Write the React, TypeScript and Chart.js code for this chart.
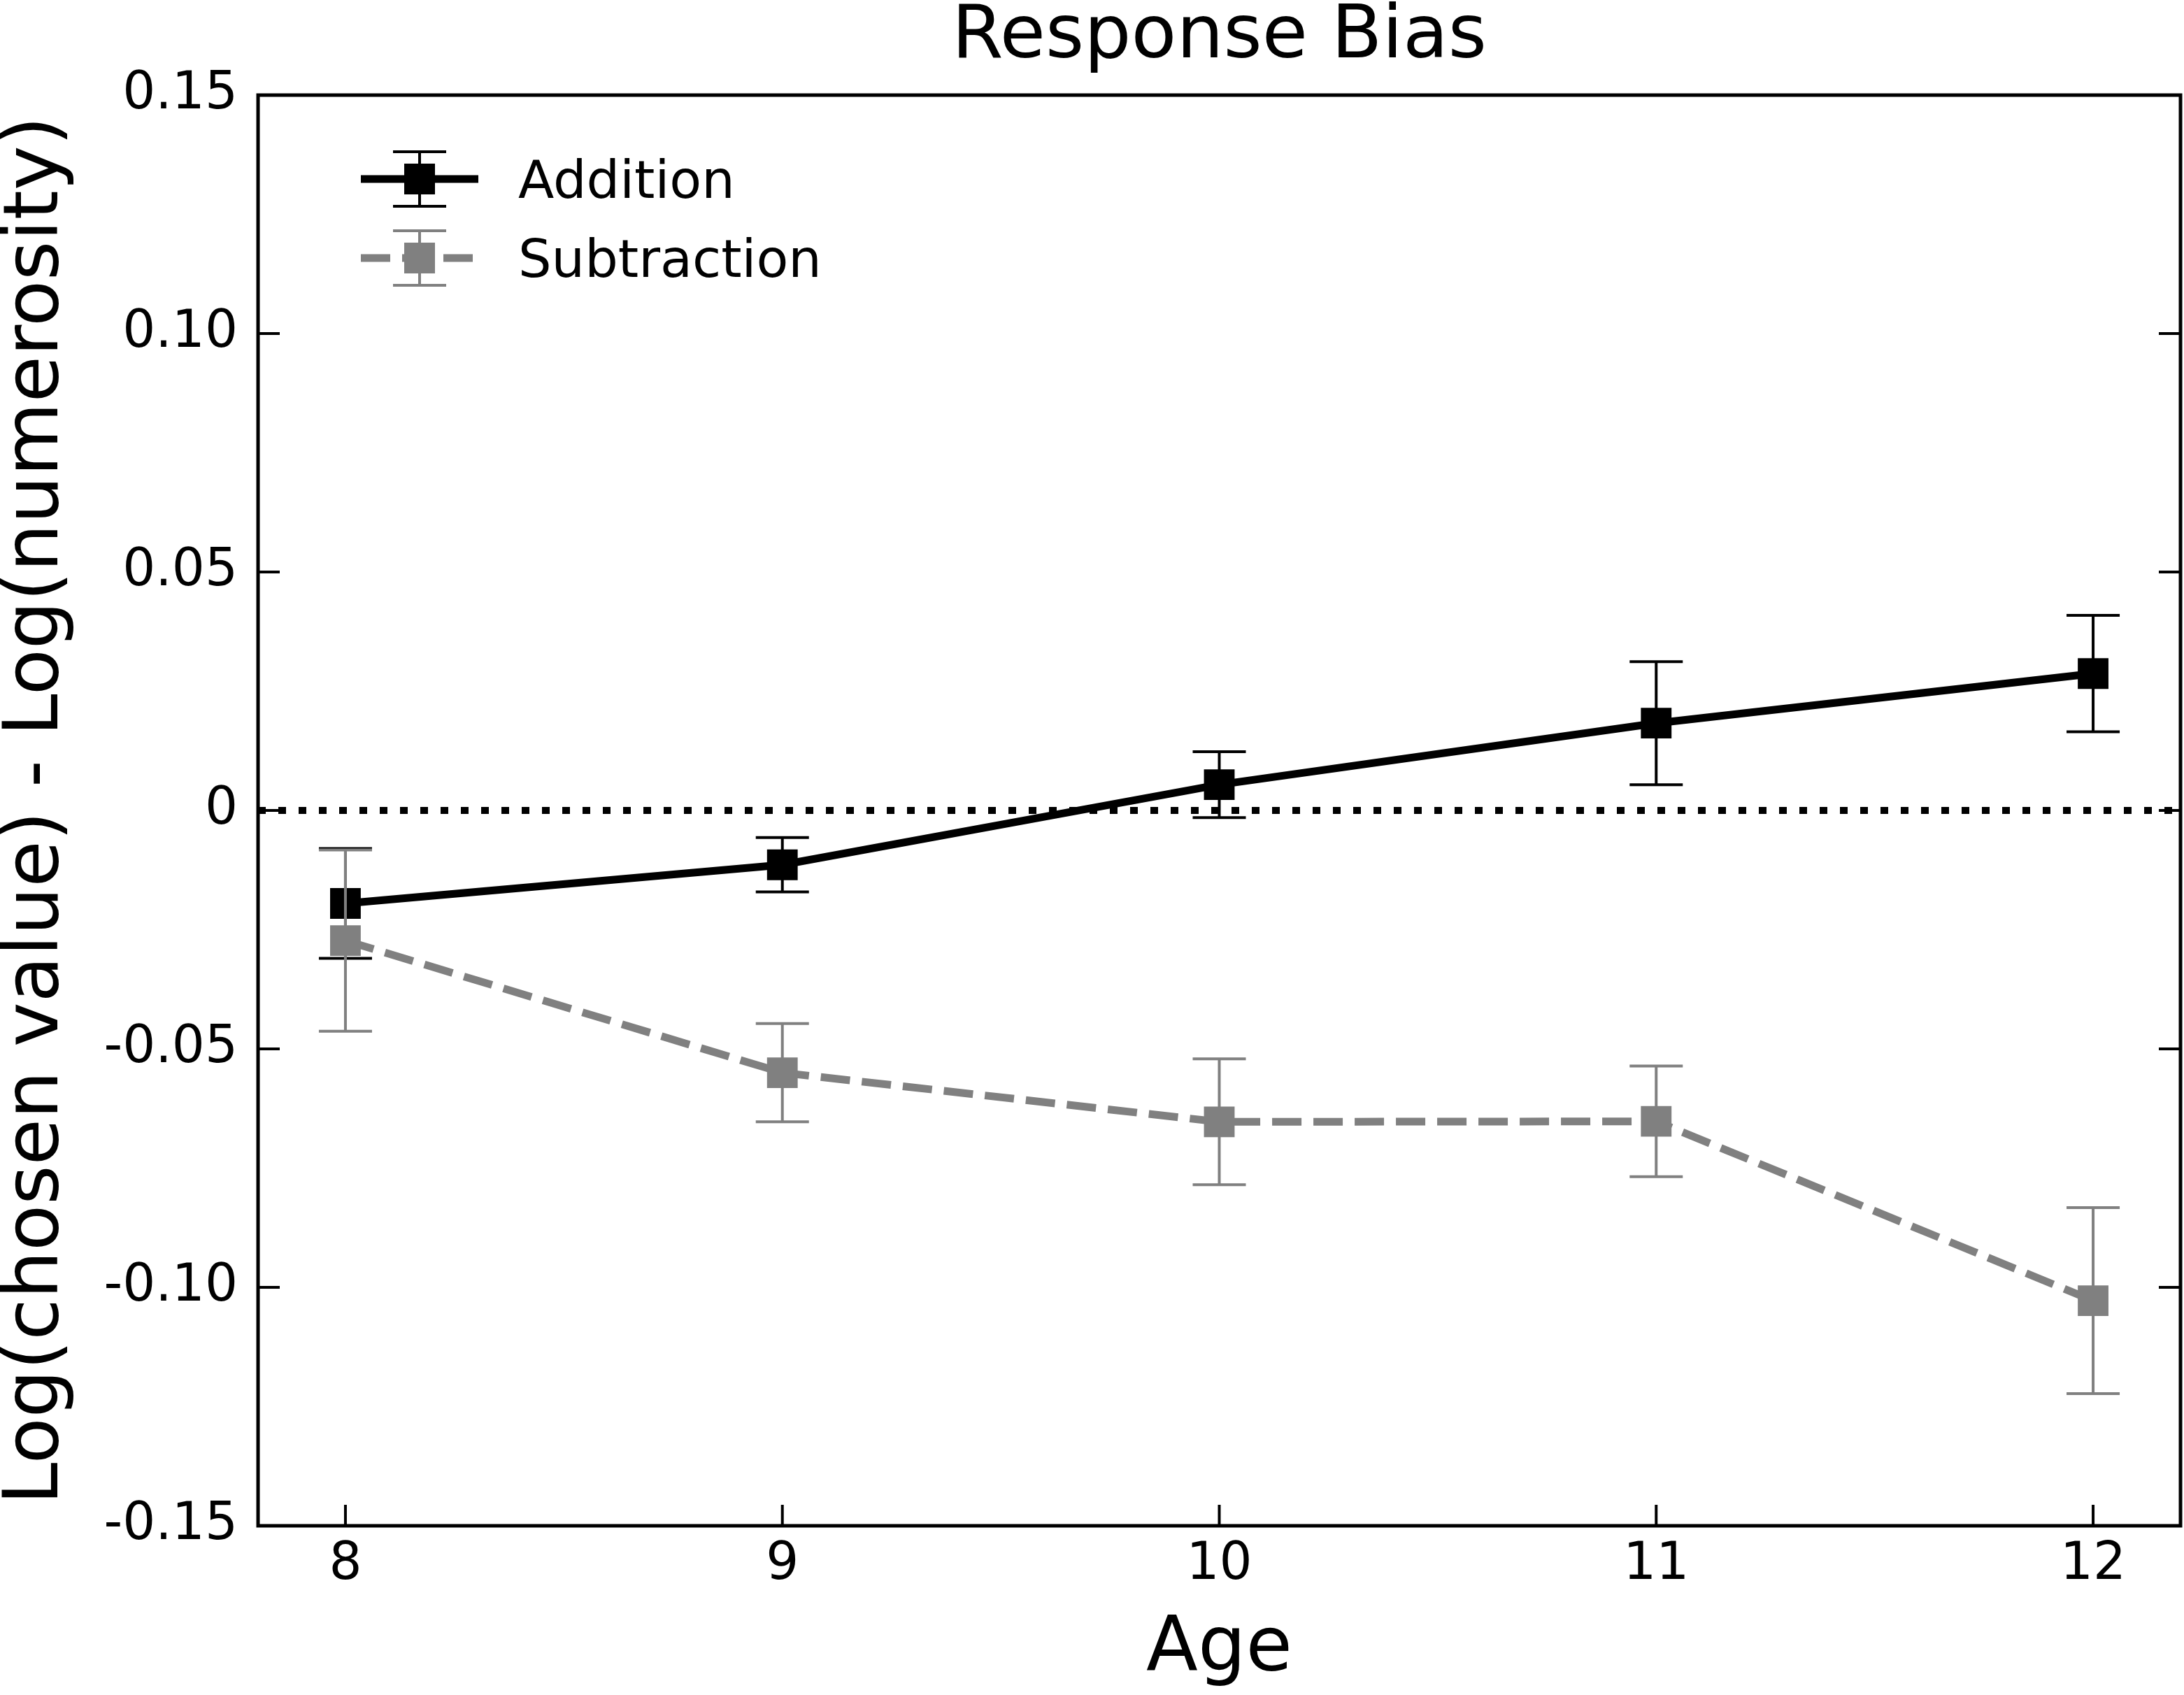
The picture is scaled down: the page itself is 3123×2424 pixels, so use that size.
import { useEffect, useRef } from "react";
import { Chart, registerables } from "chart.js";

Chart.register(...registerables);

// values
const ages = [8, 9, 10, 11, 12];
const additionMean = [-0.0195, -0.0114, 0.0054, 0.0183, 0.0287];
const additionErr = [0.0115, 0.0057, 0.0069, 0.0129, 0.0122];
const subtractionMean = [-0.0273, -0.055, -0.0653, -0.0652, -0.1028];
const subtractionErr = [0.019, 0.0103, 0.0132, 0.0116, 0.0195];
const yTicks = [-0.15, -0.1, -0.05, 0, 0.05, 0.1, 0.15];
const yTickLabels = ["-0.15", "-0.10", "-0.05", "0", "0.05", "0.10", "0.15"];
const xTickLabels = ["8", "9", "10", "11", "12"];

const W = 3123;
const H = 2424;
const BLACK = "#000000";
const GRAY = "#808080";
const FONT = '"DejaVu Sans", sans-serif';
const LINE_W = 11;

const series = [
  { label: "Addition", mean: additionMean, err: additionErr, color: BLACK, dash: [] as number[] },
  { label: "Subtraction", mean: subtractionMean, err: subtractionErr, color: GRAY, dash: [42, 17] },
];

const CAP = 38;

const errorBars = {
  id: "errorBars",
  beforeDatasetDraw(chart: any, args: any) {
    const s = series[args.index];
    if (!s) return;
    const { ctx } = chart;
    const x = chart.scales.x;
    const y = chart.scales.y;
    ctx.save();
    ctx.strokeStyle = s.color;
    ctx.lineWidth = 4;
    ctx.setLineDash([]);
    ages.forEach((age, i) => {
      const px = x.getPixelForValue(age);
      const top = y.getPixelForValue(s.mean[i] + s.err[i]);
      const bot = y.getPixelForValue(s.mean[i] - s.err[i]);
      ctx.beginPath();
      ctx.moveTo(px, top);
      ctx.lineTo(px, bot);
      ctx.moveTo(px - CAP, top);
      ctx.lineTo(px + CAP, top);
      ctx.moveTo(px - CAP, bot);
      ctx.lineTo(px + CAP, bot);
      ctx.stroke();
    });
    ctx.restore();
  },
};

const zeroLine = {
  id: "zeroLine",
  beforeDatasetsDraw(chart: any) {
    const { ctx, chartArea } = chart;
    const py = chart.scales.y.getPixelForValue(0);
    ctx.save();
    ctx.strokeStyle = BLACK;
    ctx.lineWidth = 10;
    ctx.setLineDash([11, 18]);
    ctx.beginPath();
    ctx.moveTo(chartArea.left, py);
    ctx.lineTo(chartArea.right, py);
    ctx.stroke();
    ctx.restore();
  },
};

const frameAndLegend = {
  id: "frameAndLegend",
  afterDraw(chart: any) {
    const { ctx, chartArea } = chart;
    const { left, right, top, bottom } = chartArea;
    const x = chart.scales.x;
    const y = chart.scales.y;
    ctx.save();

    // inward ticks: left, right, bottom
    ctx.strokeStyle = BLACK;
    ctx.lineWidth = 4;
    ctx.beginPath();
    yTicks.forEach((v) => {
      const py = y.getPixelForValue(v);
      ctx.moveTo(left, py);
      ctx.lineTo(left + 31, py);
      ctx.moveTo(right, py);
      ctx.lineTo(right - 31, py);
    });
    ages.forEach((v) => {
      const px = x.getPixelForValue(v);
      ctx.moveTo(px, bottom);
      ctx.lineTo(px, bottom - 30);
    });
    ctx.stroke();

    // frame
    ctx.lineWidth = 5;
    ctx.strokeRect(left, top, right - left, bottom - top);

    // legend
    const lx = left + 147;
    const row0 = top + 120;
    series.forEach((s, i) => {
      const cy = row0 + i * 113;
      const cx = lx + 84;
      ctx.strokeStyle = s.color;
      ctx.lineWidth = LINE_W;
      ctx.setLineDash(s.dash);
      ctx.beginPath();
      ctx.moveTo(lx, cy);
      ctx.lineTo(lx + 168, cy);
      ctx.stroke();
      ctx.setLineDash([]);
      ctx.lineWidth = 4;
      ctx.beginPath();
      ctx.moveTo(cx, cy - 39);
      ctx.lineTo(cx, cy + 39);
      ctx.moveTo(cx - CAP, cy - 39);
      ctx.lineTo(cx + CAP, cy - 39);
      ctx.moveTo(cx - CAP, cy + 39);
      ctx.lineTo(cx + CAP, cy + 39);
      ctx.stroke();
      ctx.fillStyle = s.color;
      ctx.fillRect(cx - 22, cy - 22, 44, 44);
      ctx.fillStyle = BLACK;
      ctx.font = `75px ${FONT}`;
      ctx.textAlign = "left";
      ctx.textBaseline = "alphabetic";
      ctx.fillText(s.label, lx + 225, cy + 27);
    });
    ctx.restore();
  },
};

export default function App() {
  const canvasRef = useRef<HTMLCanvasElement>(null);

  useEffect(() => {
    if (!canvasRef.current) return;
    Chart.defaults.font.family = FONT;
    Chart.defaults.color = BLACK;

    const chart = new Chart(canvasRef.current, {
      type: "line",
      data: {
        datasets: series.map((s, i) => ({
          label: s.label,
          data: ages.map((age, j) => ({ x: age, y: s.mean[j] })),
          borderColor: s.color,
          backgroundColor: s.color,
          borderWidth: LINE_W,
          borderDash: s.dash,
          tension: 0,
          fill: false,
          pointStyle: "rect",
          pointRadius: 31,
          pointHoverRadius: 31,
          pointBorderWidth: 0,
          pointBackgroundColor: s.color,
          order: series.length - i,
        })),
      },
      options: {
        animation: false,
        responsive: false,
        devicePixelRatio: 1,
        events: [],
        // big square markers would otherwise add auto padding round the plot
        layout: { autoPadding: false, padding: { left: 0, right: 5, top: 0, bottom: 0 } },
        plugins: {
          legend: { display: false },
          tooltip: { enabled: false },
          title: {
            display: true,
            text: "Response Bias",
            fullSize: false,
            color: BLACK,
            font: { family: FONT, size: 106, weight: "normal", lineHeight: 1 },
            padding: { top: 1, bottom: 29 },
          },
        },
        scales: {
          x: {
            type: "linear",
            min: 7.8,
            max: 12.2,
            afterBuildTicks: (scale: any) => {
              scale.ticks = ages.map((v) => ({ value: v }));
            },
            afterFit: (scale: any) => {
              scale.height = 242;
              scale.paddingLeft = 0;
              scale.paddingRight = 0;
            },
            grid: { display: false, drawTicks: false },
            border: { display: false },
            ticks: {
              color: BLACK,
              font: { family: FONT, size: 74, lineHeight: 1 },
              padding: 20,
              autoSkip: false,
              maxRotation: 0,
              callback: (_v: any, i: number) => xTickLabels[i],
            },
            title: {
              display: true,
              text: "Age",
              color: BLACK,
              font: { family: FONT, size: 108, weight: "normal", lineHeight: 1 },
              padding: { top: 0, bottom: 10 },
            },
          },
          y: {
            type: "linear",
            min: -0.15,
            max: 0.15,
            afterBuildTicks: (scale: any) => {
              scale.ticks = yTicks.map((v) => ({ value: v }));
            },
            afterFit: (scale: any) => {
              scale.width = 369;
              scale.paddingTop = 0;
              scale.paddingBottom = 0;
            },
            grid: { display: false, drawTicks: false },
            border: { display: false },
            ticks: {
              color: BLACK,
              font: { family: FONT, size: 74, lineHeight: 1 },
              padding: 29,
              autoSkip: false,
              callback: (_v: any, i: number) => yTickLabels[i],
            },
            title: {
              display: true,
              text: "Log(chosen value) - Log(numerosity)",
              color: BLACK,
              font: { family: FONT, size: 108, weight: "normal", lineHeight: 1 },
              padding: { top: 0, bottom: 0 },
            },
          },
        },
      },
      plugins: [zeroLine, errorBars, frameAndLegend],
    });
    return () => chart.destroy();
  }, []);

  return (
    <div
      style={{
        position: "fixed",
        left: 0,
        top: 0,
        width: W,
        height: H,
        background: "#ffffff",
      }}
    >
      <canvas ref={canvasRef} width={W} height={H} style={{ display: "block", width: W, height: H }} />
    </div>
  );
}
